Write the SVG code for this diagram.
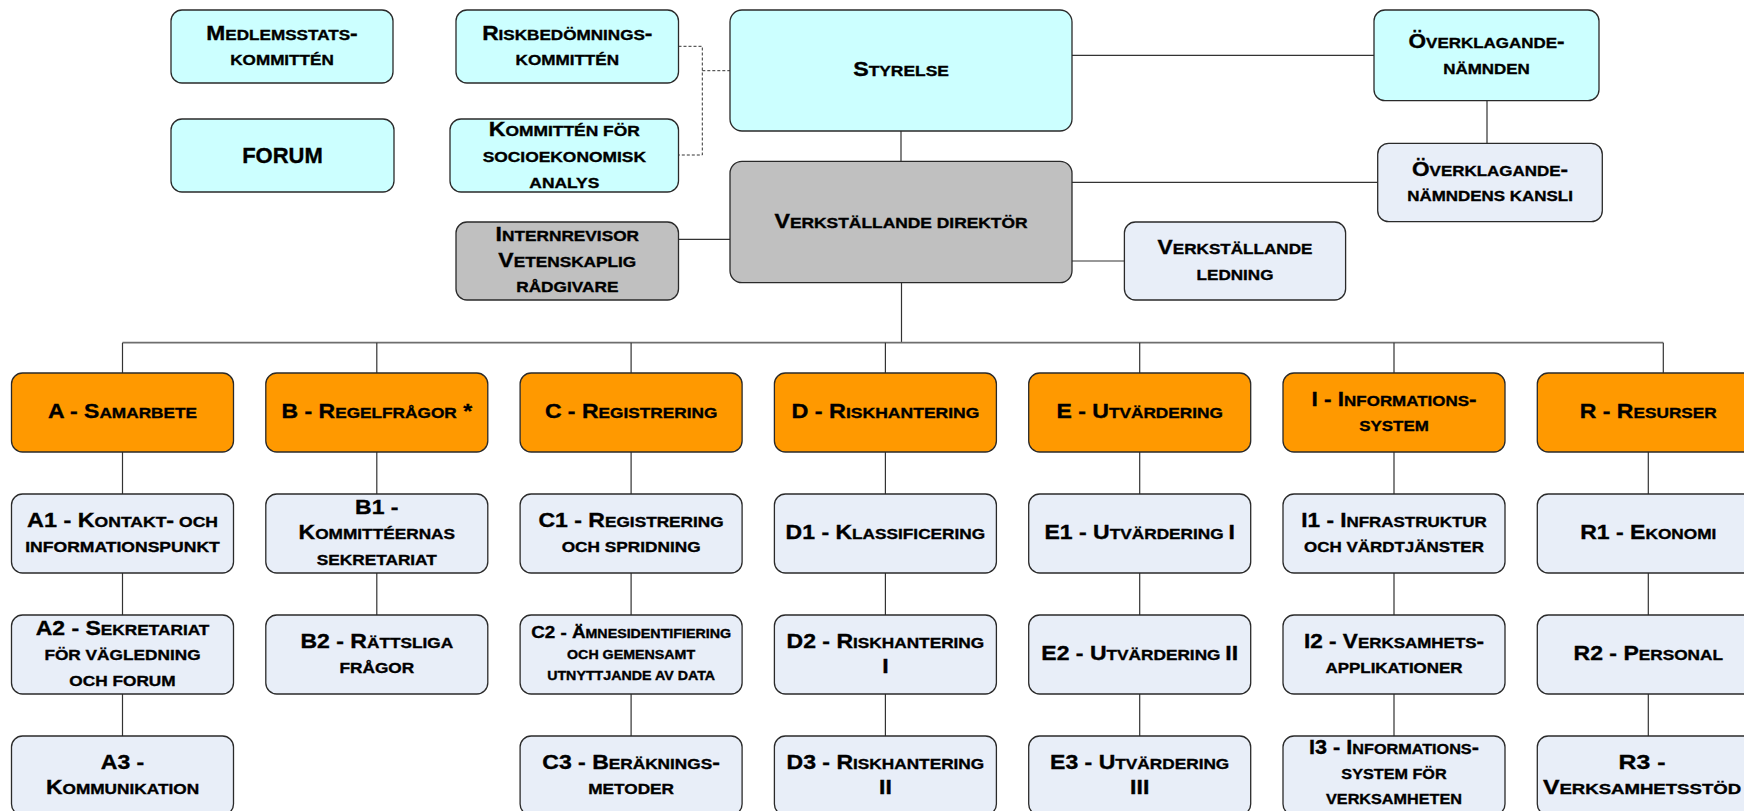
<svg xmlns="http://www.w3.org/2000/svg" width="1744" height="811" viewBox="0 0 1744 811">
<style>
.bx{stroke:#2a2a2a;stroke-width:1.3}
.cy{fill:#CCFFFF}.gr{fill:#C0C0C0}.or{fill:#FF9900}.lt{fill:#E8EEF8}
.t{font-family:"Liberation Sans",Arial,sans-serif;font-weight:bold;font-size:15px;text-anchor:middle;fill:#000;stroke:#000;stroke-width:0.35}
.b{font-size:20px}
.s{font-size:12.5px}.sb{font-size:16.5px}
.ln{stroke:#333;stroke-width:1.2;fill:none}
.bus{stroke:#6e6e6e;stroke-width:1.8;fill:none}
.ds{stroke:#333;stroke-width:1;fill:none;stroke-dasharray:3 2}
</style>
<rect width="1744" height="811" fill="#fff"/>
<g id="connectors">
<path class="ds" d="M678.5,46.3H702.3V155H678.5M702.3,70.7H730"/>
<path class="ln" d="M901,131V161.3M1072,55.3H1374M1487,100.7V143.3M1072,182.3H1377.7M1072,261H1124.4M678.5,239.3H730M901.5,282.7V342.7"/>
<path class="bus" d="M122.5,342.7H1663.3"/>
<path class="ln" d="M122.5,342.7V373M376.8,342.7V373M631.1,342.7V373M885.4,342.7V373M1139.7,342.7V373M1394,342.7V373M1663.3,342.7V373"/>
<path class="ln" d="M122.5,452V494M122.5,573V615M122.5,694V736M376.8,452V494M376.8,573V615M631.1,452V494M631.1,573V615M631.1,694V736M885.4,452V494M885.4,573V615M885.4,694V736M1139.7,452V494M1139.7,573V615M1139.7,694V736M1394,452V494M1394,573V615M1394,694V736M1648.3,452V494M1648.3,573V615M1648.3,694V736"/>
</g>
<g id="medlemsstats"><rect class="bx cy" x="171" y="10" width="222" height="73" rx="11"/>
<text class="t" transform="matrix(1.14,0,0,1,282,0)"><tspan x="0" y="39.6"><tspan class="b">M</tspan>EDLEMSSTATS<tspan class="b">-</tspan></tspan><tspan x="0" y="65.1">KOMMITTÉN</tspan></text></g>
<g id="forum"><rect class="bx cy" x="171" y="119" width="223" height="73" rx="11"/>
<text class="t" x="282.5" y="163.3" style="font-size:22px">FORUM</text></g>
<g id="risk"><rect class="bx cy" x="456" y="10" width="222.5" height="73" rx="11"/>
<text class="t" transform="matrix(1.14,0,0,1,567.3,0)"><tspan x="0" y="39.6"><tspan class="b">R</tspan>ISKBEDÖMNINGS<tspan class="b">-</tspan></tspan><tspan x="0" y="65.1">KOMMITTÉN</tspan></text></g>
<g id="socio"><rect class="bx cy" x="450" y="119" width="228.5" height="73" rx="11"/>
<text class="t" transform="matrix(1.16,0,0,1,564.3,0)"><tspan x="0" y="136.5"><tspan class="b">K</tspan>OMMITTÉN FÖR</tspan><tspan x="0" y="162.3">SOCIOEKONOMISK</tspan><tspan x="0" y="188">ANALYS</tspan></text></g>
<g id="internrevisor"><rect class="bx gr" x="456" y="222" width="222.5" height="78" rx="11"/>
<text class="t" transform="matrix(1.15,0,0,1,567.3,0)"><tspan x="0" y="241.5"><tspan class="b">I</tspan>NTERNREVISOR</tspan><tspan x="0" y="267"><tspan class="b">V</tspan>ETENSKAPLIG</tspan><tspan x="0" y="292.5">RÅDGIVARE</tspan></text></g>
<g id="styrelse"><rect class="bx cy" x="730" y="10" width="342" height="121" rx="12"/>
<text class="t" transform="matrix(1.16,0,0,1,901,0)"><tspan x="0" y="76.5"><tspan class="b">S</tspan>TYRELSE</tspan></text></g>
<g id="vd"><rect class="bx gr" x="730" y="161.3" width="342" height="121.4" rx="12"/>
<text class="t" transform="matrix(1.16,0,0,1,901,0)"><tspan x="0" y="228"><tspan class="b">V</tspan>ERKSTÄLLANDE DIREKTÖR</tspan></text></g>
<g id="overklagandenamnden"><rect class="bx cy" x="1374" y="10" width="225" height="90.7" rx="11"/>
<text class="t" transform="matrix(1.13,0,0,1,1486.5,0)"><tspan x="0" y="48.5"><tspan class="b">Ö</tspan>VERKLAGANDE<tspan class="b">-</tspan></tspan><tspan x="0" y="74">NÄMNDEN</tspan></text></g>
<g id="kansli"><rect class="bx lt" x="1377.7" y="143.3" width="224.6" height="78.4" rx="11"/>
<text class="t" transform="matrix(1.13,0,0,1,1490,0)"><tspan x="0" y="175.75"><tspan class="b">Ö</tspan>VERKLAGANDE<tspan class="b">-</tspan></tspan><tspan x="0" y="201.25">NÄMNDENS KANSLI</tspan></text></g>
<g id="ledning"><rect class="bx lt" x="1124.4" y="222" width="221.2" height="78" rx="11"/>
<text class="t" transform="matrix(1.14,0,0,1,1235,0)"><tspan x="0" y="254.25"><tspan class="b">V</tspan>ERKSTÄLLANDE</tspan><tspan x="0" y="279.75">LEDNING</tspan></text></g>

<g id="A"><rect class="bx or" x="11.5" y="373" width="222" height="79" rx="11"/>
<text class="t" transform="matrix(1.15,0,0,1,122.5,0)"><tspan x="0" y="418.5"><tspan class="b">A - S</tspan>AMARBETE</tspan></text></g>
<g id="B"><rect class="bx or" x="265.8" y="373" width="222" height="79" rx="11"/>
<text class="t" transform="matrix(1.15,0,0,1,376.8,0)"><tspan x="0" y="418.5"><tspan class="b">B - R</tspan>EGELFRÅGOR<tspan class="b"> *</tspan></tspan></text></g>
<g id="C"><rect class="bx or" x="520.1" y="373" width="222" height="79" rx="11"/>
<text class="t" transform="matrix(1.15,0,0,1,631.1,0)"><tspan x="0" y="418.5"><tspan class="b">C - R</tspan>EGISTRERING</tspan></text></g>
<g id="D"><rect class="bx or" x="774.4" y="373" width="222" height="79" rx="11"/>
<text class="t" transform="matrix(1.17,0,0,1,885.4,0)"><tspan x="0" y="418.5"><tspan class="b">D - R</tspan>ISKHANTERING</tspan></text></g>
<g id="E"><rect class="bx or" x="1028.7" y="373" width="222" height="79" rx="11"/>
<text class="t" transform="matrix(1.15,0,0,1,1139.7,0)"><tspan x="0" y="418.5"><tspan class="b">E - U</tspan>TVÄRDERING</tspan></text></g>
<g id="I"><rect class="bx or" x="1283" y="373" width="222" height="79" rx="11"/>
<text class="t" transform="matrix(1.13,0,0,1,1394,0)"><tspan x="0" y="405.75"><tspan class="b">I - I</tspan>NFORMATIONS<tspan class="b">-</tspan></tspan><tspan x="0" y="431.25">SYSTEM</tspan></text></g>
<g id="R"><rect class="bx or" x="1537.3" y="373" width="222" height="79" rx="11"/>
<text class="t" transform="matrix(1.15,0,0,1,1648.3,0)"><tspan x="0" y="418.5"><tspan class="b">R - R</tspan>ESURSER</tspan></text></g>

<g id="A1"><rect class="bx lt" x="11.5" y="494" width="222" height="79" rx="11"/>
<text class="t" transform="matrix(1.17,0,0,1,122.5,0)"><tspan x="0" y="526.75"><tspan class="b">A1 - K</tspan>ONTAKT<tspan class="b">-</tspan> OCH</tspan><tspan x="0" y="552.25">INFORMATIONSPUNKT</tspan></text></g>
<g id="A2"><rect class="bx lt" x="11.5" y="615" width="222" height="79" rx="11"/>
<text class="t" transform="matrix(1.15,0,0,1,122.5,0)"><tspan x="0" y="635"><tspan class="b">A2 - S</tspan>EKRETARIAT</tspan><tspan x="0" y="660.5">FÖR VÄGLEDNING</tspan><tspan x="0" y="686">OCH FORUM</tspan></text></g>
<g id="A3"><rect class="bx lt" x="11.5" y="736" width="222" height="79" rx="11"/>
<text class="t" transform="matrix(1.15,0,0,1,122.5,0)"><tspan x="0" y="768.75"><tspan class="b">A3 -</tspan></tspan><tspan x="0" y="794.25"><tspan class="b">K</tspan>OMMUNIKATION</tspan></text></g>
<g id="B1"><rect class="bx lt" x="265.8" y="494" width="222" height="79" rx="11"/>
<text class="t" transform="matrix(1.15,0,0,1,376.8,0)"><tspan x="0" y="514"><tspan class="b">B1 -</tspan></tspan><tspan x="0" y="539.5"><tspan class="b">K</tspan>OMMITTÉERNAS</tspan><tspan x="0" y="565">SEKRETARIAT</tspan></text></g>
<g id="B2"><rect class="bx lt" x="265.8" y="615" width="222" height="79" rx="11"/>
<text class="t" transform="matrix(1.15,0,0,1,376.8,0)"><tspan x="0" y="647.75"><tspan class="b">B2 - R</tspan>ÄTTSLIGA</tspan><tspan x="0" y="673.25">FRÅGOR</tspan></text></g>
<g id="C1"><rect class="bx lt" x="520.1" y="494" width="222" height="79" rx="11"/>
<text class="t" transform="matrix(1.15,0,0,1,631.1,0)"><tspan x="0" y="526.75"><tspan class="b">C1 - R</tspan>EGISTRERING</tspan><tspan x="0" y="552.25">OCH SPRIDNING</tspan></text></g>
<g id="C2"><rect class="bx lt" x="520.1" y="615" width="222" height="79" rx="11"/>
<text class="t s" transform="matrix(1.14,0,0,1,631.1,0)"><tspan x="0" y="638"><tspan class="sb">C2 - Ä</tspan>MNESIDENTIFIERING</tspan><tspan x="0" y="659">OCH GEMENSAMT</tspan><tspan x="0" y="680">UTNYTTJANDE AV DATA</tspan></text></g>
<g id="C3"><rect class="bx lt" x="520.1" y="736" width="222" height="79" rx="11"/>
<text class="t" transform="matrix(1.15,0,0,1,631.1,0)"><tspan x="0" y="768.75"><tspan class="b">C3 - B</tspan>ERÄKNINGS<tspan class="b">-</tspan></tspan><tspan x="0" y="794.25">METODER</tspan></text></g>
<g id="D1"><rect class="bx lt" x="774.4" y="494" width="222" height="79" rx="11"/>
<text class="t" transform="matrix(1.15,0,0,1,885.4,0)"><tspan x="0" y="539.5"><tspan class="b">D1 - K</tspan>LASSIFICERING</tspan></text></g>
<g id="D2"><rect class="bx lt" x="774.4" y="615" width="222" height="79" rx="11"/>
<text class="t" transform="matrix(1.15,0,0,1,885.4,0)"><tspan x="0" y="647.75"><tspan class="b">D2 - R</tspan>ISKHANTERING</tspan><tspan x="0" y="673.25"><tspan class="b">I</tspan></tspan></text></g>
<g id="D3"><rect class="bx lt" x="774.4" y="736" width="222" height="79" rx="11"/>
<text class="t" transform="matrix(1.15,0,0,1,885.4,0)"><tspan x="0" y="768.75"><tspan class="b">D3 - R</tspan>ISKHANTERING</tspan><tspan x="0" y="794.25"><tspan class="b">II</tspan></tspan></text></g>
<g id="E1"><rect class="bx lt" x="1028.7" y="494" width="222" height="79" rx="11"/>
<text class="t" transform="matrix(1.15,0,0,1,1139.7,0)"><tspan x="0" y="539.5"><tspan class="b">E1 - U</tspan>TVÄRDERING <tspan class="b">I</tspan></tspan></text></g>
<g id="E2"><rect class="bx lt" x="1028.7" y="615" width="222" height="79" rx="11"/>
<text class="t" transform="matrix(1.15,0,0,1,1139.7,0)"><tspan x="0" y="660.5"><tspan class="b">E2 - U</tspan>TVÄRDERING <tspan class="b">II</tspan></tspan></text></g>
<g id="E3"><rect class="bx lt" x="1028.7" y="736" width="222" height="79" rx="11"/>
<text class="t" transform="matrix(1.15,0,0,1,1139.7,0)"><tspan x="0" y="768.75"><tspan class="b">E3 - U</tspan>TVÄRDERING</tspan><tspan x="0" y="794.25"><tspan class="b">III</tspan></tspan></text></g>
<g id="I1"><rect class="bx lt" x="1283" y="494" width="222" height="79" rx="11"/>
<text class="t" transform="matrix(1.13,0,0,1,1394,0)"><tspan x="0" y="526.75"><tspan class="b">I1 - I</tspan>NFRASTRUKTUR</tspan><tspan x="0" y="552.25">OCH VÄRDTJÄNSTER</tspan></text></g>
<g id="I2"><rect class="bx lt" x="1283" y="615" width="222" height="79" rx="11"/>
<text class="t" transform="matrix(1.13,0,0,1,1394,0)"><tspan x="0" y="647.75"><tspan class="b">I2 - V</tspan>ERKSAMHETS<tspan class="b">-</tspan></tspan><tspan x="0" y="673.25">APPLIKATIONER</tspan></text></g>
<g id="I3"><rect class="bx lt" x="1283" y="736" width="222" height="79" rx="11"/>
<text class="t" transform="matrix(1.08,0,0,1,1394,0)"><tspan x="0" y="754"><tspan class="b">I3 - I</tspan>NFORMATIONS<tspan class="b">-</tspan></tspan><tspan x="0" y="779">SYSTEM FÖR</tspan><tspan x="0" y="804.5">VERKSAMHETEN</tspan></text></g>
<g id="R1"><rect class="bx lt" x="1537.3" y="494" width="222" height="79" rx="11"/>
<text class="t" transform="matrix(1.15,0,0,1,1648.3,0)"><tspan x="0" y="539.5"><tspan class="b">R1 - E</tspan>KONOMI</tspan></text></g>
<g id="R2"><rect class="bx lt" x="1537.3" y="615" width="222" height="79" rx="11"/>
<text class="t" transform="matrix(1.15,0,0,1,1648.3,0)"><tspan x="0" y="660.5"><tspan class="b">R2 - P</tspan>ERSONAL</tspan></text></g>
<g id="R3"><rect class="bx lt" x="1537.3" y="736" width="222" height="79" rx="11"/>
<text class="t" transform="matrix(1.24,0,0,1,1642,0)"><tspan x="0" y="768.75"><tspan class="b">R3 -</tspan></tspan><tspan x="0" y="794.25"><tspan class="b">V</tspan>ERKSAMHETSSTÖD</tspan></text></g>
</svg>
